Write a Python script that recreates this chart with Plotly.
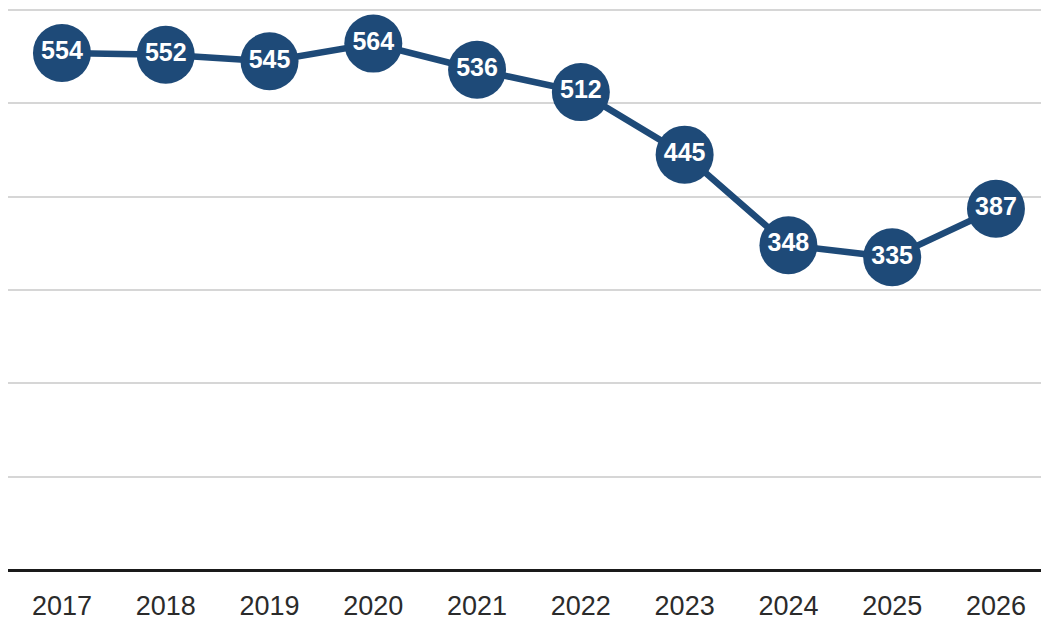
import plotly.graph_objects as go

years = [2017, 2018, 2019, 2020, 2021, 2022, 2023, 2024, 2025, 2026]
values = [554, 552, 545, 564, 536, 512, 445, 348, 335, 387]

navy = "#1e4a78"

fig = go.Figure(
    go.Scatter(
        x=years,
        y=values,
        mode="lines+markers+text",
        line=dict(color=navy, width=6.5),
        marker=dict(color=navy, size=58, line=dict(width=0)),
        text=[str(v) for v in values],
        textposition="middle center",
        textfont=dict(family="Liberation Sans, Arial, sans-serif", size=25, color="white", weight="bold"),
        cliponaxis=False,
        hoverinfo="skip",
    )
)

fig.update_layout(
    width=1041,
    height=622,
    margin=dict(l=8, r=0, t=0, b=52),
    paper_bgcolor="white",
    plot_bgcolor="white",
    showlegend=False,
)

fig.update_xaxes(
    range=[2016.48, 2026.434],
    tickvals=years,
    ticktext=[str(y) for y in years],
    ticks="outside",
    ticklen=12,
    tickcolor="rgba(0,0,0,0)",
    tickfont=dict(family="Liberation Sans, Arial, sans-serif", size=27, color="#2b2b2b"),
    showgrid=False,
    showline=False,
    zeroline=False,
)

fig.update_yaxes(
    range=[0, 610.7],
    tickvals=[0, 100, 200, 300, 400, 500, 600],
    showticklabels=False,
    showgrid=True,
    gridcolor="#d6d6d6",
    gridwidth=2,
    zeroline=True,
    zerolinecolor="#1a1a1a",
    zerolinewidth=3,
)

fig.write_html("out.html")
